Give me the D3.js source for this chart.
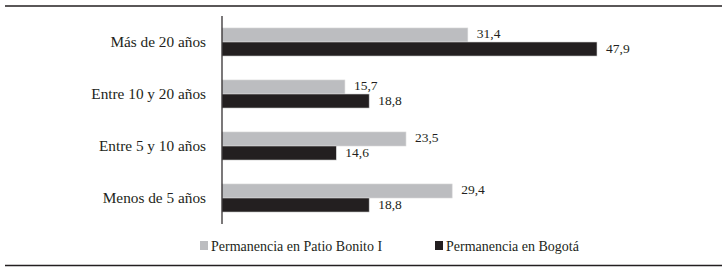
<!DOCTYPE html>
<html><head><meta charset="utf-8">
<script src="https://cdn.jsdelivr.net/npm/d3@7"></script>
<style>body{margin:0;background:#fff;}svg{display:block;}</style>
</head><body><svg id="c" width="727" height="276"></svg>
<script>
const categories = ["Más de 20 años","Entre 10 y 20 años","Entre 5 y 10 años","Menos de 5 años"];
const seriesNames = ["Permanencia en Patio Bonito I","Permanencia en Bogotá"];
const patioBonito = [31.4,15.7,23.5,29.4];
const bogota = [47.9,18.8,14.6,18.8];
const colors = ["#bcbdc0","#231f20"];
const fmt = v => String(v.toFixed(1)).replace(".", ",");

const svg = d3.select("#c");
const font = "'Liberation Serif', 'Times New Roman', serif";
const x0 = 222;
const x = d3.scaleLinear().domain([0,47.9]).range([x0,597]);
const y = d3.scaleBand().domain(categories).range([16,224]).paddingInner(0.46).paddingOuter(0.23);
const sub = d3.scaleBand().domain([0,1]).range([0,y.bandwidth()]);

// rules
svg.append("line").attr("x1",5).attr("x2",722).attr("y1",6).attr("y2",6).attr("stroke","#231f20").attr("stroke-width",1.5);
svg.append("line").attr("x1",5).attr("x2",722).attr("y1",265.5).attr("y2",265.5).attr("stroke","#231f20").attr("stroke-width",1.5);

const series = [patioBonito, bogota];
series.forEach((vals,si)=>{
  const g = svg.append("g");
  g.selectAll("rect").data(vals).join("rect")
    .attr("x",x0).attr("y",(d,i)=>y(categories[i])+sub(si))
    .attr("width",d=>x(d)-x0).attr("height",sub.bandwidth())
    .attr("fill",colors[si]).attr("stroke","#d8d8d8").attr("stroke-width",0.6);
  g.selectAll("text").data(vals).join("text")
    .attr("x",d=>x(d)+9).attr("y",(d,i)=>y(categories[i])+sub(si)+sub.bandwidth()/2)
    .attr("dy", "0.26em")
    .attr("font-family",font).attr("font-size",13.5).attr("fill","#231f20")
    .text(d=>fmt(d));
});

// axis
const axis = d3.axisLeft(y).tickSize(0).tickPadding(16);
const ag = svg.append("g").attr("transform",`translate(${x0},0)`).call(axis);
ag.select(".domain").attr("d","M0,16V224").attr("stroke","#231f20").attr("stroke-width",1.2);
ag.selectAll("text").attr("font-family",font).attr("font-size",15.3).attr("fill","#231f20").attr("dy","0.3em");

// legend
const lx = [200,435];
seriesNames.forEach((n,i)=>{
  svg.append("rect").attr("x",lx[i]).attr("y",241).attr("width",8).attr("height",9).attr("fill",colors[i]);
  svg.append("text").attr("x",lx[i]+11).attr("y",251).attr("font-family",font).attr("font-size",14).attr("fill","#231f20").text(n);
});
</script></body></html>
